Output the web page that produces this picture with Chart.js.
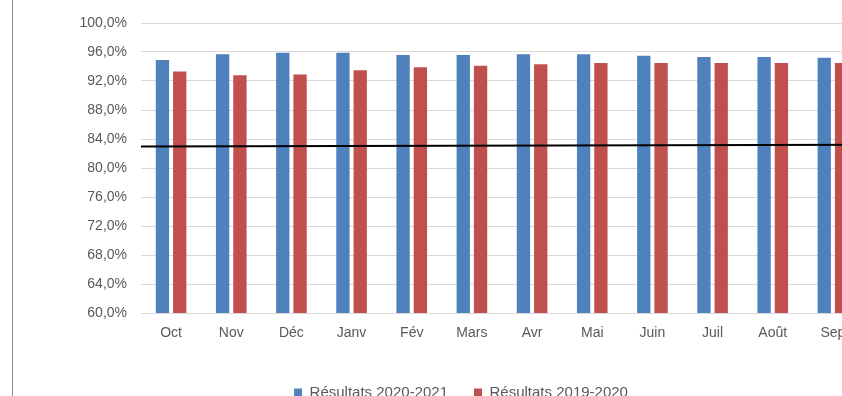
<!DOCTYPE html>
<html>
<head>
<meta charset="utf-8">
<script src="https://cdn.jsdelivr.net/npm/chart.js@4/dist/chart.umd.min.js"></script>
<style>
  html, body { margin: 0; padding: 0; background: #fff; overflow: hidden; }
  #frame { position: absolute; left: 12px; top: 0; width: 1px; height: 396px; background: #8c8c8c; }
  #wrap { position: absolute; left: 13px; top: 0; width: 895px; height: 410px; }
</style>
</head>
<body>
<div id="frame"></div>
<div id="wrap"><canvas id="myChart" width="895" height="410"></canvas></div>
<script>
// mois (octobre -> septembre)
const months = ['Oct', 'Nov', 'Déc', 'Janv', 'Fév', 'Mars', 'Avr', 'Mai', 'Juin', 'Juil', 'Août', 'Sep'];
const results2021 = [94.9, 95.7, 95.9, 95.9, 95.6, 95.6, 95.7, 95.7, 95.5, 95.3, 95.3, 95.2];
const results2020 = [93.3, 92.8, 92.9, 93.5, 93.9, 94.1, 94.3, 94.5, 94.5, 94.5, 94.5, 94.5];
// ligne noire : valeur au bord gauche / bord droit
const targetLine = [82.95, 83.2];
const yTicks = { min: 60, max: 100, step: 4 };

const tickColor = '#595959';
const gridColor = '#d9d9d9';

// trace la ligne noire sur toute la largeur, via l'échelle y
const targetLinePlugin = {
  id: 'targetLine',
  afterDatasetsDraw(chart) {
    const { ctx, chartArea, scales } = chart;
    ctx.save();
    ctx.beginPath();
    ctx.moveTo(chartArea.left, scales.y.getPixelForValue(targetLine[0]));
    ctx.lineTo(chartArea.right, scales.y.getPixelForValue(targetLine[1]));
    ctx.lineWidth = 2;
    ctx.strokeStyle = '#000';
    ctx.stroke();
    ctx.restore();
  }
};

const ctx = document.getElementById('myChart').getContext('2d');
new Chart(ctx, {
  type: 'bar',
  data: {
    labels: months,
    datasets: [
      {
        label: 'Résultats 2020-2021',
        data: results2021,
        backgroundColor: '#4F81BD'
      },
      {
        label: 'Résultats 2019-2020',
        data: results2020,
        backgroundColor: '#C0504D'
      }
    ]
  },
  options: {
    responsive: false,
    animation: false,
    categoryPercentage: 0.575,
    barPercentage: 0.77,
    layout: { padding: { left: 46, right: 45, top: 23, bottom: 0 } },
    plugins: {
      tooltip: { enabled: false },
      legend: {
        position: 'bottom',
        labels: {
          boxWidth: 8,
          boxHeight: 8,
          padding: 26,
          color: tickColor,
          font: { family: 'Liberation Sans, Arial', size: 15 }
        }
      }
    },
    scales: {
      x: {
        grid: { display: false },
        border: { display: true, color: gridColor, width: 1 },
        ticks: {
          color: tickColor,
          padding: 4,
          maxRotation: 0,
          font: { family: 'Liberation Sans, Arial', size: 14 }
        },
        afterFit: scale => { scale.height = 46; }
      },
      y: {
        min: yTicks.min,
        max: yTicks.max,
        grid: { color: gridColor, drawTicks: false },
        border: { display: false },
        ticks: {
          stepSize: yTicks.step,
          padding: 14,
          color: tickColor,
          font: { family: 'Liberation Sans, Arial', size: 14 },
          callback: v => v.toFixed(1).replace('.', ',') + '%'
        },
        afterFit: scale => { scale.width = 82; }
      }
    }
  },
  plugins: [targetLinePlugin]
});
</script>
</body>
</html>
